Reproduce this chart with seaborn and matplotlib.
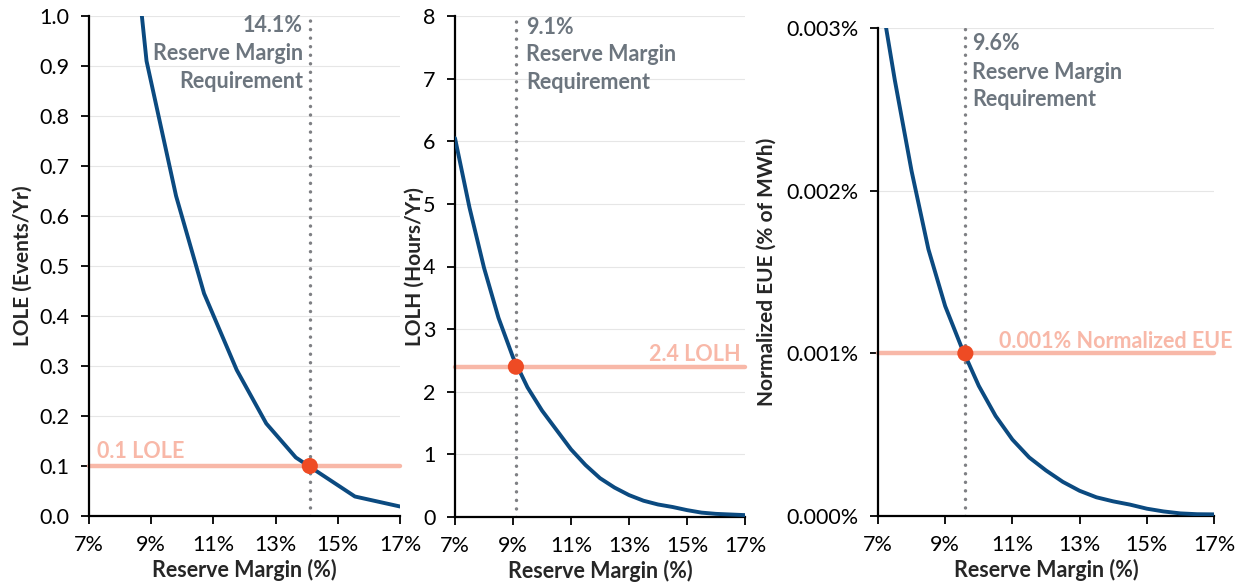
import matplotlib
matplotlib.use("Agg")
import matplotlib.pyplot as plt
import seaborn as sns
import pandas as pd
from matplotlib.ticker import FuncFormatter, FixedLocator

# ---------------- data ----------------
lole_rm = [8.5, 8.85, 9.8, 10.7, 11.75, 12.7, 13.65, 14.6, 15.55, 17.0]
lole_val = [1.12, 0.91, 0.64, 0.445, 0.292, 0.185, 0.117, 0.078, 0.039, 0.019]

rm_grid = [7.0, 7.5, 8.0, 8.5, 9.0, 9.5, 10.0, 10.5, 11.0, 11.5, 12.0,
           12.5, 13.0, 13.5, 14.0, 14.5, 15.0, 15.5, 16.0, 16.5, 17.0]
lolh_val = [6.05, 4.94, 3.98, 3.18, 2.55, 2.07, 1.7, 1.39, 1.08, 0.83, 0.62,
            0.47, 0.35, 0.26, 0.2, 0.16, 0.11, 0.07, 0.05, 0.04, 0.03]
eue_val = [0.00330, 0.00268, 0.00212, 0.00164, 0.00129, 0.00103, 0.00080,
           0.000615, 0.00047, 0.00036, 0.00028, 0.00021, 0.000155, 0.000115,
           0.000090, 0.000070, 0.000045, 0.000028, 0.000016, 0.000011, 0.000010]

req_rm = [14.1, 9.1, 9.6]
target_val = [0.1, 2.4, 0.001]
target_labels = ["0.1 LOLE", "2.4 LOLH", "0.001% Normalized EUE"]
req_labels = [["14.1%", "Reserve Margin", "Requirement"],
              ["9.1%", "Reserve Margin", "Requirement"],
              ["9.6%", "Reserve Margin", "Requirement"]]
y_labels = ["LOLE (Events/Yr)", "LOLH (Hours/Yr)", "Normalized EUE (% of MWh)"]
x_label = "Reserve Margin (%)"
x_ticks = [7, 9, 11, 13, 15, 17]
y_ticks = [[0.0, 0.1, 0.2, 0.3, 0.4, 0.5, 0.6, 0.7, 0.8, 0.9, 1.0],
           [0, 1, 2, 3, 4, 5, 6, 7, 8],
           [0.0, 0.001, 0.002, 0.003]]

# ---------------- style ----------------
sns.set_style("white")
plt.rcParams["font.family"] = ["Lato", "DejaVu Sans"]

NAVY = "#0B4A80"
PINK = "#F8B8A8"
RED = "#EE4B24"
GRAY_TXT = "#6C757E"
GRAY_LINE = "#7F8084"

fig = plt.figure(figsize=(12.43, 5.85), dpi=100)
W, H = 1243, 585


def px_axes(l, r, t, b):
    return fig.add_axes([l / W, (H - b) / H, (r - l) / W, (b - t) / H])


axes = [px_axes(89, 400, 16, 516), px_axes(455, 745, 16, 517), px_axes(878, 1214, 28, 516)]
ylims = [(0, 1.0), (0, 8), (0, 0.003)]
fmts = [lambda v, p: f"{v:.1f}", lambda v, p: f"{v:.0f}", lambda v, p: f"{v:.3f}%"]
ylabel_x = [-0.18, -0.103, -0.302]

curves = [
    pd.DataFrame({"rm": lole_rm, "val": lole_val}),
    pd.DataFrame({"rm": rm_grid, "val": lolh_val}),
    pd.DataFrame({"rm": rm_grid, "val": eue_val}),
]

# text placement (data coords)
req_text_x = [13.88, 9.45, 9.81]
req_text_ha = ["right", "left", "left"]
req_text_y = [[0.982, 0.924, 0.870], [7.81, 7.38, 6.94], [0.002902, 0.002724, 0.002558]]
tgt_text_x = [7.26, 16.85, 17.54]
tgt_text_y = [0.128, 2.6, 0.001074]
tgt_text_ha = ["left", "right", "right"]

for i, ax in enumerate(axes):
    ax.set_xlim(7, 17)
    ax.set_ylim(*ylims[i])
    # grid
    for yt in y_ticks[i]:
        ax.axhline(yt, color="#E6E6E6", lw=0.8, zorder=0)
    # target line
    ax.axhline(target_val[i], color=PINK, lw=3.2, zorder=1, clip_on=False)
    # requirement line
    ax.axvline(req_rm[i], color=GRAY_LINE, lw=2.5, ls=(0, (0.01, 2.45)),
               dash_capstyle="round", zorder=2)
    # curve
    sns.lineplot(data=curves[i], x="rm", y="val", ax=ax, color=NAVY, lw=2.8,
                 estimator=None, sort=False, zorder=3)
    # marker
    sns.scatterplot(x=[req_rm[i]], y=[target_val[i]], ax=ax, color=RED, s=135,
                    edgecolor="none", zorder=5, clip_on=False)

    ax.xaxis.set_major_locator(FixedLocator(x_ticks))
    ax.xaxis.set_major_formatter(FuncFormatter(lambda v, p: f"{v:.0f}%"))
    ax.yaxis.set_major_locator(FixedLocator(y_ticks[i]))
    ax.yaxis.set_major_formatter(FuncFormatter(fmts[i]))
    ax.tick_params(axis="both", direction="out", length=6, width=1.3, color="black",
                   labelsize=15.5, labelcolor="black")
    ax.tick_params(axis="y", left=True, pad=8)
    ax.tick_params(axis="x", bottom=True, pad=8)
    for s in ["top", "right"]:
        ax.spines[s].set_visible(False)
    for s in ["left", "bottom"]:
        ax.spines[s].set_color("black")
        ax.spines[s].set_linewidth(1.6)

    ax.set_xlabel(x_label, fontsize=15.5, fontweight="bold", labelpad=2.5)
    ax.set_ylabel(y_labels[i], fontsize=15, fontweight="bold")
    ax.yaxis.set_label_coords(ylabel_x[i], 0.5)

    for line, yy in zip(req_labels[i], req_text_y[i]):
        ax.text(req_text_x[i], yy, line, ha=req_text_ha[i], va="center",
                fontsize=15.5, fontweight="bold", color=GRAY_TXT, clip_on=False, zorder=6)
    ax.text(tgt_text_x[i], tgt_text_y[i], target_labels[i], ha=tgt_text_ha[i], va="center",
            fontsize=15.5, fontweight="bold", color=PINK, clip_on=False, zorder=6)

fig.savefig("out.png", dpi=100, facecolor="white")
